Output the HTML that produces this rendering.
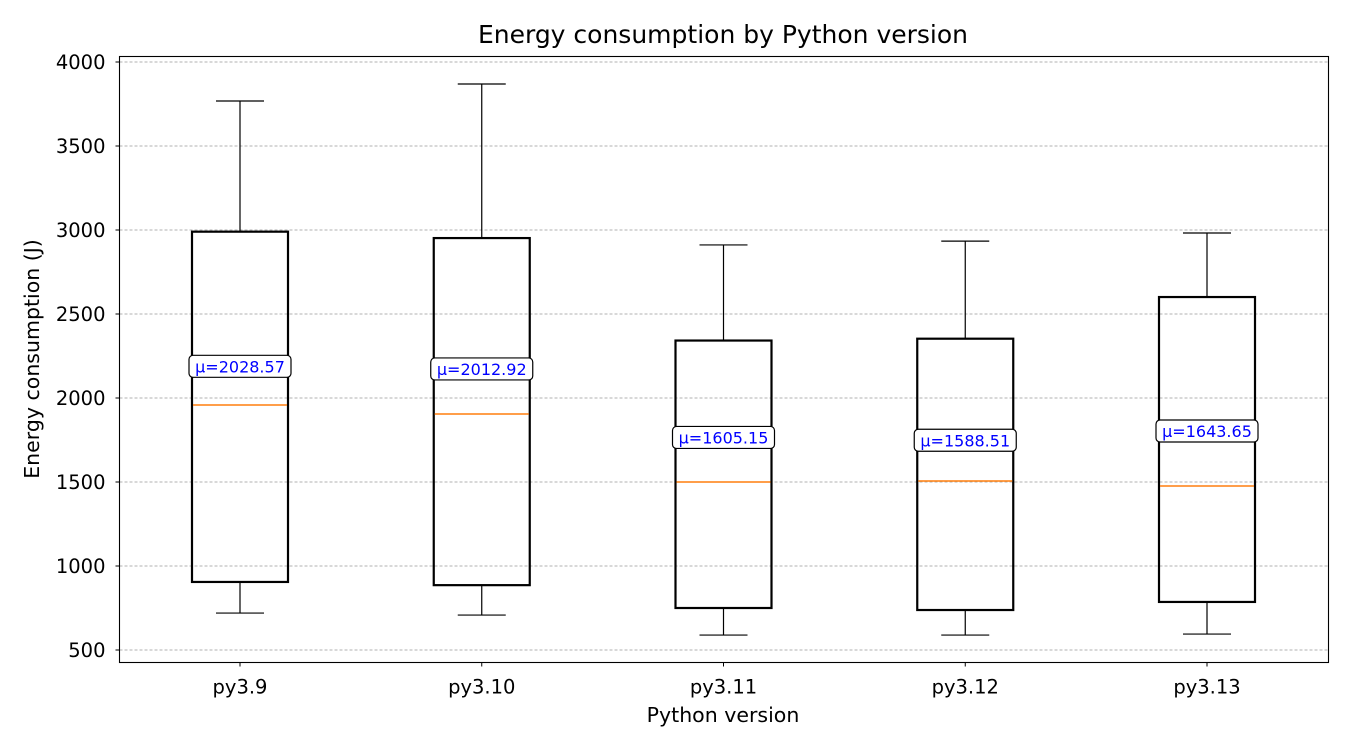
<!DOCTYPE html>
<html><head><meta charset="utf-8"><style>
body{margin:0;background:#fff}
svg{display:block;font-family:"DejaVu Sans","Liberation Sans",sans-serif}
</style></head><body>
<svg id="chart" width="1350" height="750">
<rect width="1350" height="750" fill="#fff"/>
<text x="723" y="43" font-size="25px" text-anchor="middle">Energy consumption by Python version</text>
<text x="723" y="722" font-size="20.5px" text-anchor="middle">Python version</text>
<text transform="translate(39,359) rotate(-90)" font-size="20.5px" text-anchor="middle">Energy consumption (J)</text>
<g id="grid"></g><g id="boxes"></g><g id="axes"></g>
<rect x="119.5" y="56.5" width="1209" height="606" fill="none" stroke="#000" stroke-width="1.1"/>
</svg>
<script>
const categories=["py3.9","py3.10","py3.11","py3.12","py3.13"];
const whiskerLow=[720,708,589,589,595];
const q1=[905,886,750,738,786];
const median=[1958,1905,1500,1506,1476];
const q3=[2990,2952,2342,2353,2601];
const whiskerHigh=[3768,3869,2911,2934,2982];
const means=[2028.57,2012.92,1605.15,1588.51,1643.65];
const yTicks=[500,1000,1500,2000,2500,3000,3500,4000];
const NS="http://www.w3.org/2000/svg";
const L=119.5,R=1328.5,T=56.5,B=662.5;
function y(v){return 650-(v-500)*0.168;}
function x(i){return 240+i*241.75;}
function mk(tag,attrs,parent,txt){const e=document.createElementNS(NS,tag);for(const k in attrs)e.setAttribute(k,attrs[k]);if(txt!==undefined)e.textContent=txt;parent.appendChild(e);return e;}
const grid=document.getElementById('grid'),axes=document.getElementById('axes'),boxes=document.getElementById('boxes');
yTicks.forEach(t=>{
  const g=mk('line',{x1:L,x2:R,y1:y(t),y2:y(t),stroke:'#999','stroke-width':0.8,'stroke-dasharray':'3,2'},grid);
  
  
  mk('line',{x1:L-4,x2:L,y1:y(t),y2:y(t),stroke:'#000'},axes);
  const tl=mk('text',{x:L-14,y:y(t)+7,'font-size':'19.5px','text-anchor':'end'},axes,t);
  
  
});
categories.forEach((c,i)=>{
  const cx=x(i),hw=48,cw=24;
  const g=mk('g',{},boxes);
  
  
  mk('line',{x1:cx,x2:cx,y1:y(q3[i]),y2:y(whiskerHigh[i]),stroke:'#000','stroke-width':1.2},g);
  mk('line',{x1:cx,x2:cx,y1:y(q1[i]),y2:y(whiskerLow[i]),stroke:'#000','stroke-width':1.2},g);
  mk('line',{x1:cx-cw,x2:cx+cw,y1:y(whiskerHigh[i]),y2:y(whiskerHigh[i]),stroke:'#000','stroke-width':1.2},g);
  mk('line',{x1:cx-cw,x2:cx+cw,y1:y(whiskerLow[i]),y2:y(whiskerLow[i]),stroke:'#000','stroke-width':1.2},g);
  mk('rect',{x:cx-hw,y:y(q3[i]),width:2*hw,height:y(q1[i])-y(q3[i]),fill:'none',stroke:'#000','stroke-width':2.2},g);
  mk('line',{x1:cx-hw+1,x2:cx+hw-1,y1:y(median[i]),y2:y(median[i]),stroke:'#ff7f0e','stroke-width':1.5},g);
  const ly=y(means[i]+160);
  const lab=mk('g',{},g);
  
  
  mk('rect',{x:cx-51,y:ly-11,width:102,height:22,rx:4,fill:'#fff',stroke:'#000','stroke-width':1.2},lab);
  mk('text',{x:cx,y:ly+6,'font-size':'16px','text-anchor':'middle',fill:'#0000ff'},lab,'μ='+means[i].toFixed(2));
  mk('line',{x1:cx,x2:cx,y1:B,y2:B+4,stroke:'#000'},axes);
  const xl=mk('text',{x:cx,y:B+31,'font-size':'19.5px','text-anchor':'middle'},axes,c);
  
  
});
</script>
</body></html>
